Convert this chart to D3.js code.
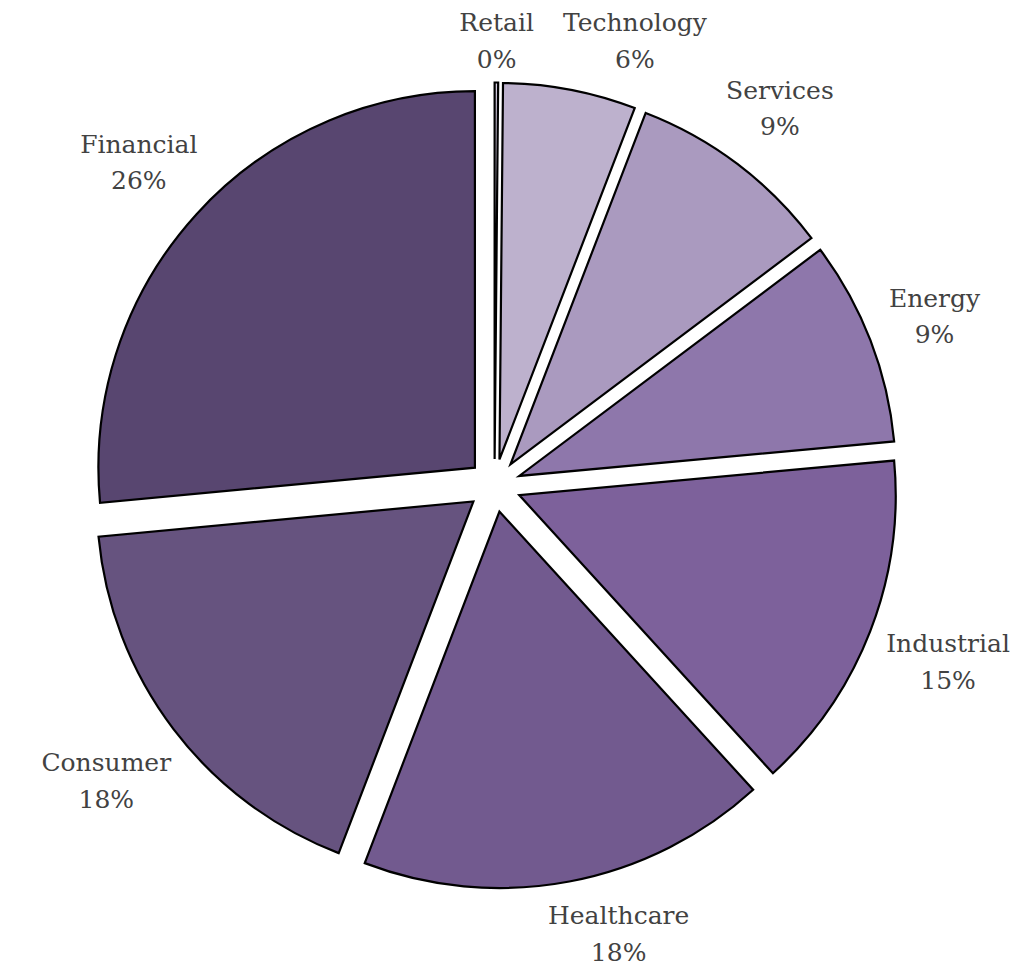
<!DOCTYPE html>
<html>
<head>
<meta charset="utf-8">
<script src="https://cdn.jsdelivr.net/npm/d3@7"></script>
<style>
  html, body { margin: 0; padding: 0; background: #ffffff; }
  svg { display: block; }
  .lbl { font-family: "DejaVu Serif", serif; font-size: 25px; fill: #424242; }
</style>
</head>
<body>
<svg id="chart" width="1027" height="967"></svg>
<script>
// ---- data ----
const categories = ["Retail", "Technology", "Services", "Energy", "Industrial", "Healthcare", "Consumer", "Financial"];
const values     = [0.15, 5.7, 8.9, 8.8, 14.7, 17.6, 17.7, 26.5];
const colors     = ["#d3cbe0", "#bdb1cd", "#aa9abf", "#8e77ab", "#7d619b", "#725a8f", "#66537f", "#584670"];

// ---- layout ----
const W = 1027, H = 967;
const cx = 494.5, cy = 485.5;
const radius = 376.5;
const explode = 26.5;
const labelR0 = 416;
const maxSlide = 7 * Math.PI / 180;

const svg = d3.select("#chart");
const total = d3.sum(values);
const data = categories.map((c, i) => ({ name: c, value: values[i], color: colors[i] }));

const pie = d3.pie().sort(null).value(d => d.value).startAngle(0).endAngle(2 * Math.PI);
const arcs = pie(data);
const arc = d3.arc().innerRadius(0).outerRadius(radius);
const pct = d3.format(".0%");

const root = svg.append("g").attr("transform", `translate(${cx},${cy})`);

root.selectAll("path.slice")
  .data(arcs)
  .join("path")
  .attr("class", "slice")
  .attr("transform", d => {
    const m = (d.startAngle + d.endAngle) / 2;
    return `translate(${explode * Math.sin(m)},${-explode * Math.cos(m)})`;
  })
  .attr("d", arc)
  .attr("fill", d => d.data.color)
  .attr("stroke", "#000")
  .attr("stroke-width", 2.2)
  .attr("stroke-linejoin", "miter");

// ---- labels ----
const labelLayer = svg.append("g");
const labels = arcs.map(d => {
  const g = labelLayer.append("g");
  const t = g.append("text").attr("class", "lbl").attr("text-anchor", "middle");
  t.append("tspan").attr("x", 0).attr("y", -9).text(d.data.name);
  t.append("tspan").attr("x", 0).attr("y", 27.6).text(pct(d.data.value / total));
  const bb = t.node().getBBox();
  return { d, g, w: bb.width / 2 + 2, h: 30, mid: (d.startAngle + d.endAngle) / 2 };
});

const xmin = 6, xmax = W - 2, ymin = 10, ymax = H - 4;
const placed = [];
function posAt(l, th) {
  const L = labelR0 + Math.abs(Math.sin(th)) * l.w + Math.abs(Math.cos(th)) * l.h;
  return { x: cx + L * Math.sin(th), y: cy - L * Math.cos(th) };
}
function inBounds(l, p) {
  return p.x - l.w >= xmin && p.x + l.w <= xmax && p.y - l.h >= ymin && p.y + l.h <= ymax;
}
function overlaps(l, p) {
  return placed.some(q => Math.abs(q.x - p.x) < q.w + l.w && Math.abs(q.y - p.y) < q.h + l.h);
}
const order = labels.slice().sort((a, b) => b.d.value - a.d.value);
order.forEach(l => {
  const pref = Math.sign(Math.sin(l.mid) * Math.cos(l.mid)) || 1;
  let best = null;
  for (let delta = 0; delta <= maxSlide && !best; delta += 0.1 * Math.PI / 180) {
    for (const s of [pref, -pref]) {
      const p = posAt(l, l.mid + s * delta);
      if (inBounds(l, p) && !overlaps(l, p)) { best = p; break; }
    }
  }
  if (!best) {
    best = posAt(l, l.mid);
    best.x = Math.max(xmin + l.w, Math.min(xmax - l.w, best.x));
    best.y = Math.max(ymin + l.h, Math.min(ymax - l.h, best.y));
    placed.forEach(q => {
      if (Math.abs(q.x - best.x) < q.w + l.w && Math.abs(q.y - best.y) < q.h + l.h) {
        best.x = best.x < q.x ? q.x - q.w - l.w : q.x + q.w + l.w;
      }
    });
  }
  placed.push({ x: best.x, y: best.y, w: l.w, h: l.h });
  l.g.attr("transform", `translate(${best.x},${best.y})`);
});
</script>
</body>
</html>
